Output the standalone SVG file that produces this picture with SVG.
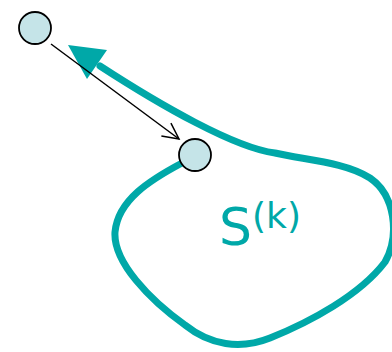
<svg xmlns="http://www.w3.org/2000/svg" width="392" height="352" viewBox="0 0 392 352">
<defs>
<style>
.node{fill:#C5E4E8;stroke:#000;stroke-width:1.8}
.teal{fill:none;stroke:#00A8A8;stroke-width:7;stroke-linecap:round;stroke-linejoin:round}
.edge{fill:none;stroke:#000;stroke-width:1.5}
.lbl{fill:#00A8A8;font-family:"DejaVu Sans",sans-serif}
</style>
<marker id="open" viewBox="0 0 20 20" refX="18" refY="10" markerWidth="20" markerHeight="20" markerUnits="userSpaceOnUse" orient="auto">
<path d="M2,2 L18,10 L2,18" fill="none" stroke="#000" stroke-width="1.5"/>
</marker>
</defs>
<g id="connectors">
<path class="teal" d="M182,163 C150,180 118,200 115,232 C113,262 150,300 185,325 C210,345 240,350 270,338 C310,322 360,295 385,262 C400,235 395,195 370,178 C345,162 305,160 275,153 C235,148 160,105 100,66"/>
<polygon points="68,45 107,50 87,79" fill="#00A8A8"/>
<line class="edge" x1="51" y1="44" x2="179" y2="139" marker-end="url(#open)"/>
</g>
<g id="node1"><circle class="node" cx="35" cy="28" r="16"/></g>
<g id="node2"><circle class="node" cx="195" cy="155" r="16"/></g>
<g id="label"><text class="lbl" x="219" y="245" font-size="52">S<tspan font-size="36" dy="-17">(k)</tspan></text></g>
</svg>
